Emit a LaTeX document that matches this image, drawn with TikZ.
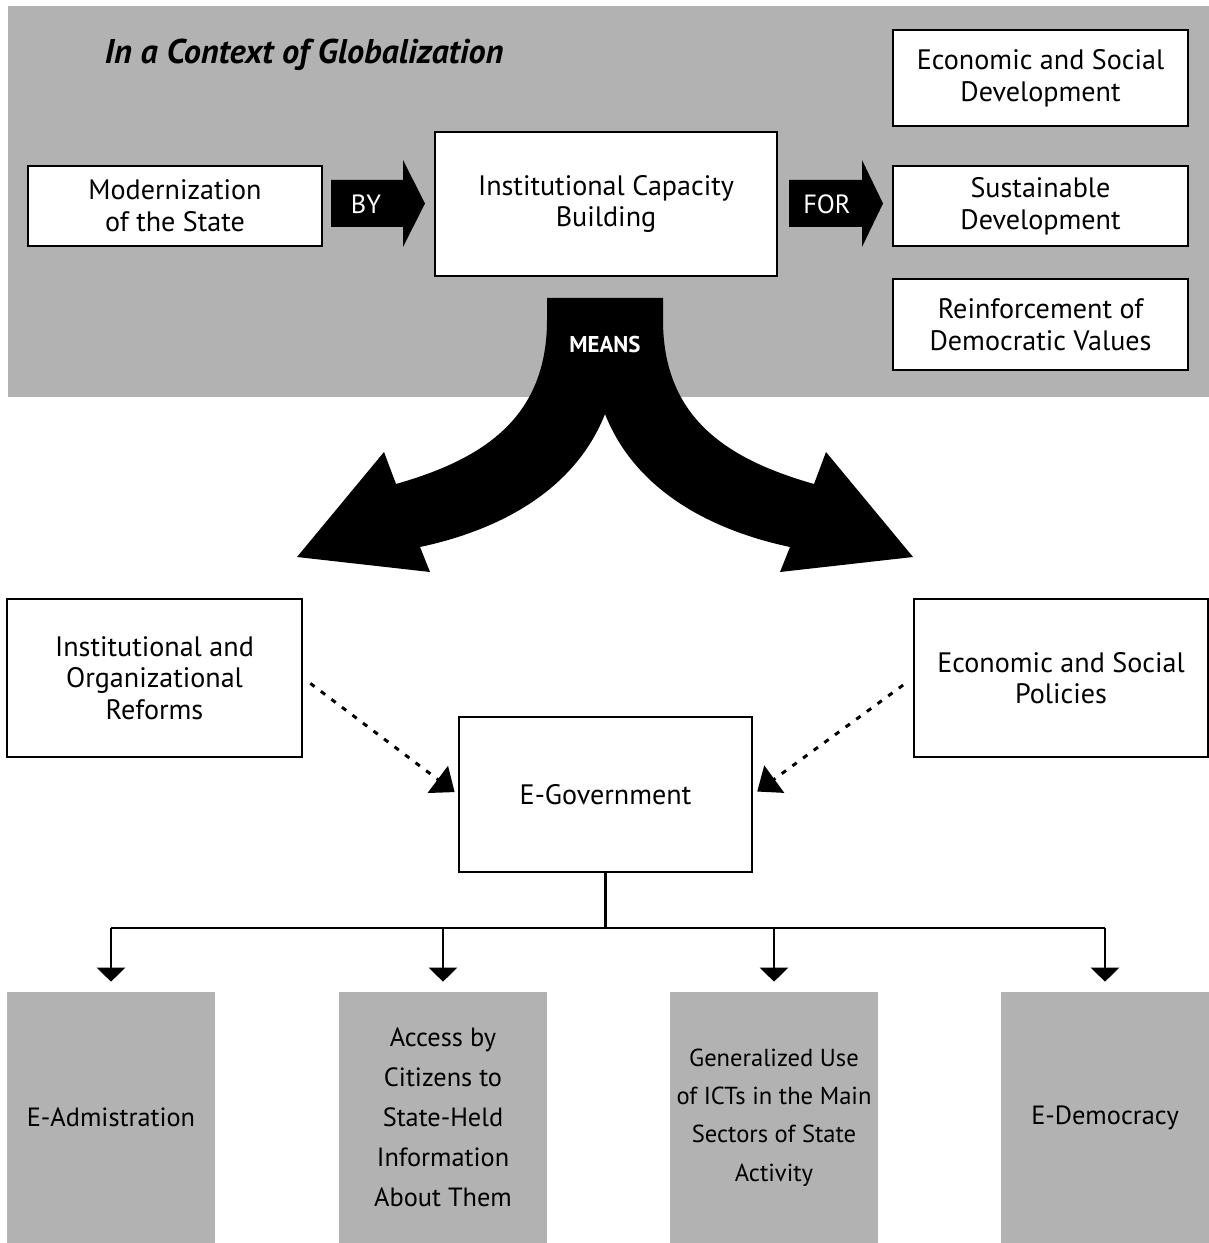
\documentclass[tikz,border=0pt]{standalone}
\usepackage{fontspec}
\setmainfont{PT Sans}
\usetikzlibrary{arrows.meta}

\definecolor{panelgray}{RGB}{178,178,178}
\newcommand{\boxfont}{\fontsize{16}{18}\selectfont}
\newcommand{\leaffont}{\fontsize{15}{22.8}\selectfont}

\begin{document}
\begin{tikzpicture}[
    x=0.02cm, y=-0.02cm,
    box/.style={draw, line width=1.4pt, fill=white, align=center, inner sep=2pt, font=\boxfont},
    leaf/.style={fill=panelgray, align=center, inner sep=2pt, minimum width=4.16cm, minimum height=5.02cm, font=\leaffont},
    fatlabel/.style={text=white, font=\fontsize{15}{18}\selectfont},
    dotarrow/.style={line width=1.7pt, dash pattern=on 3pt off 4.5pt, -{Triangle[length=12pt,width=19pt]}},
    tree/.style={line width=1.3pt},
    treearrow/.style={tree, -{Triangle[length=8pt,width=16pt]}, shorten >=0.2cm}
  ]

    \useasboundingbox (0,0) rectangle (1209,1243);

    % Context panel
    \fill[panelgray] (8,6) rectangle (1209,397);
    \node[font=\fontsize{19.5}{22}\selectfont\bfseries\itshape] (context) at (304,55) {In a Context of Globalization};

    % Top row
    \node[box, minimum width=5.88cm, minimum height=1.6cm] (state) at (175,206) {Modernization\\of the State};
    \node[box, minimum width=6.84cm, minimum height=2.88cm] (capacity) at (606,204) {Institutional Capacity\\Building};
    \node[box, minimum width=5.9cm, minimum height=1.92cm] (econdev) at (1040.5,78) {Economic and Social\\Development};
    \node[box, minimum width=5.9cm, minimum height=1.6cm] (sustain) at (1040.5,206) {Sustainable\\Development};
    \node[box, minimum width=5.9cm, minimum height=1.82cm] (democ) at (1040.5,324.5) {Reinforcement of\\Democratic Values};

    % BY and FOR block arrows
    \fill (331,180) -- (403,180) -- (403,160) -- (425,203.5) -- (403,247) -- (403,227) -- (331,227) -- cycle;
    \node[fatlabel] (by) at (366,204) {BY};
    \fill (789,180) -- (862,180) -- (862,160) -- (883,203.5) -- (862,247) -- (862,227) -- (789,227) -- cycle;
    \node[fatlabel] (for) at (827,204) {FOR};

    % MEANS split arrow
    \fill (547,298) -- (663,298) -- (663,320)
      .. controls (663,420) and (730,460) .. (814,484)
      -- (826,452) -- (913,557) -- (780,572) -- (790,547)
      .. controls (710,530) and (635,490) .. (605,414)
      .. controls (575,490) and (500,530) .. (420,547)
      -- (430,572) -- (297,557) -- (384,452) -- (396,484)
      .. controls (480,460) and (547,420) .. (547,320) -- cycle;
    \node[text=white, font=\fontsize{13}{15}\selectfont\bfseries] (means) at (605,345) {MEANS};

    % Middle row
    \node[box, minimum width=5.9cm, minimum height=3.16cm] (reforms) at (154.5,678) {Institutional and\\Organizational\\Reforms};
    \node[box, minimum width=5.88cm, minimum height=3.16cm] (policies) at (1061,678) {Economic and Social\\Policies};
    \node[box, minimum width=5.86cm, minimum height=3.1cm] (egov) at (605.5,794.5) {E-Government};

    \draw[dotarrow, shorten <=0.18cm, shorten >=0.08cm] (reforms.east) -- (egov.west);
    \draw[dotarrow, shorten <=0.24cm, shorten >=0.1cm] (policies.west) -- (egov.east);

    % Bottom row
    \node[leaf] (admin) at (111,1117.5) {E-Admistration};
    \node[leaf] (access) at (443,1117.5) {Access by\\Citizens to\\State-Held\\Information\\About Them};
    \node[leaf, font=\fontsize{14}{21.8}\selectfont] (icts) at (774,1117.5) {Generalized Use\\of ICTs in the Main\\Sectors of State\\Activity};
    \node[leaf] (edemo) at (1105,1117.5) {E-Democracy};

    \draw[tree] (egov.south) -- ++(0,55) coordinate (fork);
    \draw[tree] (fork -| admin.north) -- (fork -| edemo.north);
    \foreach \leafname in {admin,access,icts,edemo}
      \draw[treearrow] (fork -| \leafname.north) -- (\leafname.north);

  \end{tikzpicture}
\end{document}
